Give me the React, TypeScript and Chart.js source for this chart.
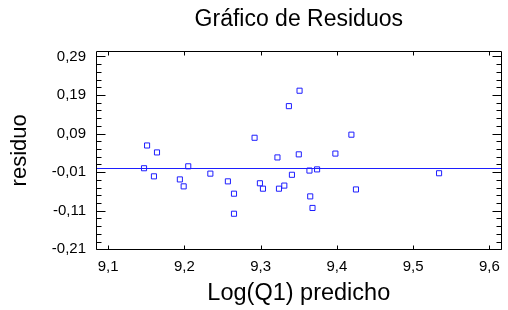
import { useEffect, useRef } from 'react';
import { Chart, registerables } from 'chart.js';

Chart.register(...registerables);

const chartTitle = 'Gráfico de Residuos';
const xTitle = 'Log(Q1) predicho';
const yTitle = 'residuo';

const predicted = [
  9.147, 9.151, 9.160, 9.164, 9.194, 9.199, 9.205, 9.234, 9.257, 9.265,
  9.265, 9.292, 9.299, 9.303, 9.322, 9.324, 9.331, 9.341, 9.337, 9.351,
  9.350, 9.364, 9.365, 9.368, 9.374, 9.398, 9.419, 9.425, 9.534,
];
const residuals = [
  0.000, 0.059, -0.021, 0.041, -0.029, -0.047, 0.005, -0.014, -0.034, -0.066,
  -0.118, 0.079, -0.039, -0.053, 0.028, -0.053, -0.045, -0.017, 0.161, 0.201,
  0.036, -0.006, -0.073, -0.103, -0.003, 0.038, 0.087, -0.055, -0.013,
];

const xTickValues = [9.1, 9.2, 9.3, 9.4, 9.5, 9.6];
const yTickValues = [-0.21, -0.11, -0.01, 0.09, 0.19, 0.29];
const yMinorTickValues = [
  -0.19, -0.17, -0.15, -0.13, -0.09, -0.07, -0.05, -0.03,
  0.01, 0.03, 0.05, 0.07, 0.11, 0.13, 0.15, 0.17, 0.21, 0.23, 0.25, 0.27,
];
const xRange = [9.084, 9.616];
const yRange = [-0.212, 0.305];
const zeroLevel = 0;

const fmtX = (v: number) => v.toFixed(1).replace('.', ',');
const fmtY = (v: number) => v.toFixed(2).replace('.', ',');

const FONT = "'Liberation Sans', Arial, sans-serif";
const BLUE = 'rgb(30,30,255)';

function drawFrame(chart: any) {
  const ctx = chart.ctx;
  const area = chart.chartArea;
  const xs = chart.scales.x;
  const ys = chart.scales.y;
  const L = Math.round(area.left) + 0.5;
  const R = Math.round(area.right) - 0.5;
  const T = Math.round(area.top) + 0.5;
  const B = Math.round(area.bottom) - 0.5;
  ctx.save();
  ctx.strokeStyle = '#000000';
  ctx.lineWidth = 1;
  ctx.beginPath();
  ctx.moveTo(L, T);
  ctx.lineTo(R, T);
  ctx.lineTo(R, B);
  ctx.lineTo(L, B);
  ctx.lineTo(L, T);
  xTickValues.forEach((v) => {
    const px = Math.round(xs.getPixelForValue(v)) + 0.5;
    ctx.moveTo(px, T);
    ctx.lineTo(px, T + 4);
    ctx.moveTo(px, B);
    ctx.lineTo(px, B - 4);
  });
  yTickValues.forEach((v) => {
    const py = Math.round(ys.getPixelForValue(v)) + 0.5;
    ctx.moveTo(L, py);
    ctx.lineTo(L + 9, py);
    ctx.moveTo(R, py);
    ctx.lineTo(R - 9, py);
  });
  yMinorTickValues.forEach((v) => {
    const py = Math.round(ys.getPixelForValue(v)) + 0.5;
    ctx.moveTo(L, py);
    ctx.lineTo(L + 5, py);
    ctx.moveTo(R, py);
    ctx.lineTo(R - 5, py);
  });
  ctx.stroke();
  ctx.restore();
}

const decorPlugin = {
  id: 'decor',
  beforeDatasetsDraw(chart: any) {
    const { ctx, chartArea } = chart;
    const y = Math.round(chart.scales.y.getPixelForValue(zeroLevel)) + 0.5;
    ctx.save();
    ctx.strokeStyle = BLUE;
    ctx.lineWidth = 1;
    ctx.beginPath();
    ctx.moveTo(chartArea.left, y);
    ctx.lineTo(chartArea.right, y);
    ctx.stroke();
    ctx.restore();
    drawFrame(chart);
  },
};

export default function App() {
  const ref = useRef<HTMLCanvasElement | null>(null);

  useEffect(() => {
    if (!ref.current) return;
    const points = predicted.map((x, i) => ({ x, y: residuals[i] }));
    const chart = new Chart(ref.current, {
      type: 'scatter',
      data: {
        datasets: [
          {
            data: points,
            pointStyle: 'rect',
            pointRadius: 3.6,
            pointHoverRadius: 3.6,
            pointBorderWidth: 1,
            borderColor: BLUE,
            backgroundColor: 'rgba(0,0,0,0)',
          },
        ],
      },
      options: {
        animation: false,
        responsive: false,
        devicePixelRatio: 1,
        layout: { padding: { left: 0, right: 2, top: 0, bottom: 0 } },
        plugins: {
          legend: { display: false },
          tooltip: { enabled: false },
          title: {
            display: true,
            text: chartTitle,
            fullSize: false,
            color: '#000',
            font: { family: FONT, size: 23, weight: 'normal', lineHeight: 1.2 },
            padding: { top: 6, bottom: 17 },
          },
        },
        scales: {
          x: {
            type: 'linear',
            min: xRange[0],
            max: xRange[1],
            afterBuildTicks: (scale: any) => {
              scale.ticks = xTickValues.map((value) => ({ value }));
            },
            afterFit: (scale: any) => {
              scale.height = 60;
            },
            grid: { display: false, drawTicks: false },
            border: { display: false },
            ticks: {
              color: '#000',
              padding: 8,
              maxRotation: 0,
              font: { family: FONT, size: 15 },
              callback: (v: any) => fmtX(Number(v)),
            },
            title: {
              display: true,
              text: xTitle,
              color: '#000',
              font: { family: FONT, size: 23.5, lineHeight: 1.2 },
              padding: { top: 0, bottom: 2 },
            },
          },
          y: {
            type: 'linear',
            min: yRange[0],
            max: yRange[1],
            afterBuildTicks: (scale: any) => {
              scale.ticks = yTickValues.map((value) => ({ value }));
            },
            afterFit: (scale: any) => {
              scale.width = 96;
            },
            grid: { display: false, drawTicks: false },
            border: { display: false },
            ticks: {
              color: '#000',
              padding: 10,
              font: { family: FONT, size: 15 },
              callback: (v: any) => fmtY(Number(v)),
            },
            title: {
              display: true,
              text: yTitle,
              color: '#000',
              font: { family: FONT, size: 22, lineHeight: 1.2 },
              padding: { top: 7, bottom: 0 },
            },
          },
        },
      },
      plugins: [decorPlugin],
    } as any);
    return () => chart.destroy();
  }, []);

  return (
    <div style={{ position: 'fixed', left: 0, top: 0, width: 508, height: 310, background: '#fff' }}>
      <canvas ref={ref} width={508} height={310} style={{ width: 508, height: 310, display: 'block' }} />
    </div>
  );
}
